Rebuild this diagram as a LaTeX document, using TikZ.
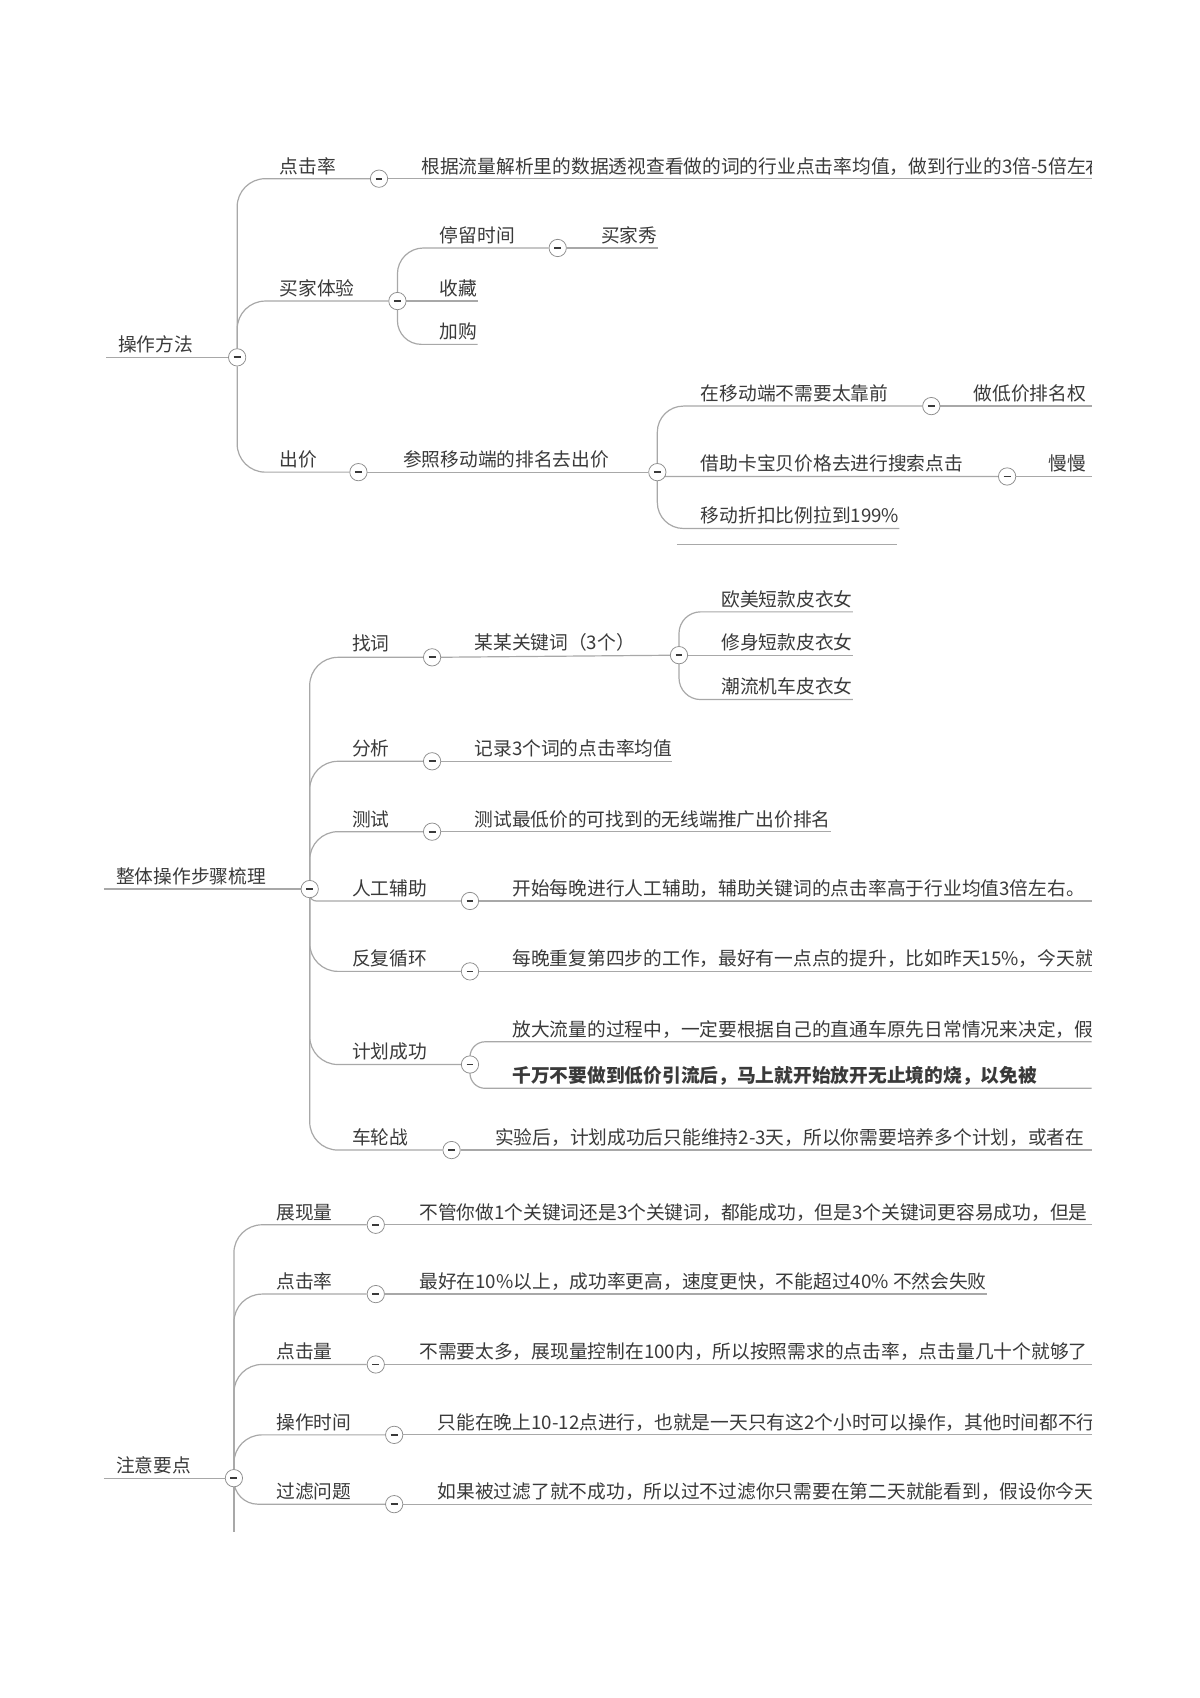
\documentclass[tikz,border=0pt]{standalone}
\usepackage{fontspec}
\usetikzlibrary{backgrounds}
\newfontfamily\cnfont{Noto Sans CJK SC}
\definecolor{Ink}{HTML}{3A3A3A}
\definecolor{Wire}{HTML}{A8A8A8}
\definecolor{Ring}{HTML}{8E8E8E}

\begin{document}
\begin{tikzpicture}[x=1pt, y=-1pt,
  every node/.style={font=\cnfont\fontsize{17.3}{20}\selectfont, text=Ink},
  topic/.style={anchor=south west, inner xsep=0pt, inner ysep=0pt, text height=13pt, text depth=5pt},
  root/.style={topic, inner xsep=11pt},
  fold/.style={circle, draw=Ring, fill=white, line width=0.7pt, minimum size=16pt, inner sep=0pt,
    path picture={\draw[Ink, line width=1.6pt] ([xshift=-3.2pt]path picture bounding box.center) -- ([xshift=3.2pt]path picture bounding box.center);}},
  conn/.style={draw=Wire, line width=1.1pt, rounded corners=26pt}]
  \useasboundingbox (0,0) rectangle (1108,1568);
  \coordinate (rim) at (1008,0);

  \begin{scope}
  \clip (0,0) rectangle (1008,1568);
  % operation methods
  \node[root] (opRoot) at (98,330) {操作方法};
  \node[fold] (opFold) at (219,330) {};
  \node[topic] (opCtr) at (258,165) {点击率};
  \node[fold] (opCtrFold) at (350,165) {};
  \node[topic] (opCtrNote) at (389,165) {根据流量解析里的数据透视查看做的词的行业点击率均值，做到行业的3倍-5倍左右};
  \node[topic] (opBuy) at (258,278) {买家体验};
  \node[fold] (opBuyFold) at (367,278) {};
  \node[topic] (opStay) at (406,229) {停留时间};
  \node[fold] (opStayFold) at (515,229) {};
  \node[topic] (opShow) at (555,229) {买家秀};
  \node[topic] (opFav) at (406,278) {收藏};
  \node[topic] (opCart) at (406,318) {加购};
  \node[topic] (opBid) at (258,436) {出价};
  \node[fold] (opBidFold) at (331,436) {};
  \node[topic] (opRank) at (372,436) {参照移动端的排名去出价};
  \node[fold] (opRankFold) at (607,436) {};
  \node[topic] (opFront) at (647,375) {在移动端不需要太靠前};
  \node[fold] (opFrontFold) at (860,375) {};
  \node[topic] (opWeight) at (899,375) {做低价排名权};
  \node[topic] (opCard) at (647,440) {借助卡宝贝价格去进行搜索点击};
  \node[fold] (opCardFold) at (930,440) {};
  \node[topic] (opSlow) at (968,440) {慢慢};
  \node[topic] (opDisc) at (647,488) {移动折扣比例拉到199\%};
  \coordinate (opStrayL) at (625,503);
  \coordinate (opStrayR) at (828,503);

  % overall steps
  \node[root] (stRoot) at (96,821) {整体操作步骤梳理};
  \node[fold] (stFold) at (286,821) {};
  \node[topic] (stFind) at (325,606) {找词};
  \node[fold] (stFindFold) at (399,607) {};
  \node[topic] (stKey) at (438,605) {某某关键词（3个）};
  \node[fold] (stKeyFold) at (627,605) {};
  \node[topic] (stKeyA) at (666,565) {欧美短款皮衣女};
  \node[topic] (stKeyB) at (666,605) {修身短款皮衣女};
  \node[topic] (stKeyC) at (666,646) {潮流机车皮衣女};
  \node[topic] (stAna) at (325,703) {分析};
  \node[fold] (stAnaFold) at (399,703) {};
  \node[topic] (stAnaNote) at (438,703) {记录3个词的点击率均值};
  \node[topic] (stTest) at (325,768) {测试};
  \node[fold] (stTestFold) at (399,768) {};
  \node[topic] (stTestNote) at (438,768) {测试最低价的可找到的无线端推广出价排名};
  \node[topic] (stHelp) at (325,832) {人工辅助};
  \node[fold] (stHelpFold) at (434,832) {};
  \node[topic] (stHelpNote) at (473,832) {开始每晚进行人工辅助，辅助关键词的点击率高于行业均值3倍左右。};
  \node[topic] (stLoop) at (325,897) {反复循环};
  \node[fold] (stLoopFold) at (434,897) {};
  \node[topic] (stLoopNote) at (473,897) {每晚重复第四步的工作，最好有一点点的提升，比如昨天15\%，今天就};
  \node[topic] (stPlan) at (325,983) {计划成功};
  \node[fold] (stPlanFold) at (434,983) {};
  \node[topic] (stPlanA) at (473,962) {放大流量的过程中，一定要根据自己的直通车原先日常情况来决定，假};
  \node[topic, font=\cnfont\bfseries\fontsize{17.3}{20}\selectfont] (stPlanB) at (473,1005) {千万不要做到低价引流后，马上就开始放开无止境的烧，以免被};
  \node[topic] (stWheel) at (325,1062) {车轮战};
  \node[fold] (stWheelFold) at (417,1062) {};
  \node[topic] (stWheelNote) at (457,1062) {实验后，计划成功后只能维持2-3天，所以你需要培养多个计划，或者在};

  % key points
  \node[root] (ntRoot) at (96,1365) {注意要点};
  \node[fold] (ntFold) at (216,1365) {};
  \coordinate (ntTail) at (216,1415);
  \node[topic] (ntShow) at (255,1131) {展现量};
  \node[fold] (ntShowFold) at (347,1131) {};
  \node[topic] (ntShowNote) at (387,1131) {不管你做1个关键词还是3个关键词，都能成功，但是3个关键词更容易成功，但是};
  \node[topic] (ntCtr) at (255,1195) {点击率};
  \node[fold] (ntCtrFold) at (347,1195) {};
  \node[topic] (ntCtrNote) at (387,1195) {最好在10\%以上，成功率更高，速度更快，不能超过40\% 不然会失败};
  \node[topic] (ntClick) at (255,1260) {点击量};
  \node[fold] (ntClickFold) at (347,1260) {};
  \node[topic] (ntClickNote) at (387,1260) {不需要太多，展现量控制在100内，所以按照需求的点击率，点击量几十个就够了};
  \node[topic] (ntTime) at (255,1325) {操作时间};
  \node[fold] (ntTimeFold) at (364,1325) {};
  \node[topic] (ntTimeNote) at (404,1325) {只能在晚上10-12点进行，也就是一天只有这2个小时可以操作，其他时间都不行};
  \node[topic] (ntFilter) at (255,1389) {过滤问题};
  \node[fold] (ntFilterFold) at (364,1389) {};
  \node[topic] (ntFilterNote) at (404,1389) {如果被过滤了就不成功，所以过不过滤你只需要在第二天就能看到，假设你今天};
  \end{scope}

  \begin{scope}[on background layer]
  \fill[white] (0,0) rectangle (1108,1568);
  \draw[conn] (opRoot.south west) -- (opFold);
  \draw[conn] (opFold) |- (opCtrFold);
  \draw[conn] (opFold) |- (opBuyFold);
  \draw[conn] (opFold) |- (opBidFold);
  \draw[conn] (opCtrFold) -- (opCtrFold -| rim);
  \draw[conn, rounded corners=24pt] (opBuyFold) |- (opStayFold);
  \draw[conn] (opStayFold) -- (opShow.south east);
  \draw[conn] (opBuyFold) -- (opFav.south east);
  \draw[conn, rounded corners=22pt] (opBuyFold) |- (opCart.south east);
  \draw[conn] (opBidFold) -- (opRankFold);
  \draw[conn, rounded corners=24pt] (opRankFold) |- (opFrontFold);
  \draw[conn, rounded corners=3pt] (opRankFold) |- (opCardFold);
  \draw[conn, rounded corners=24pt] (opRankFold) |- (opDisc.south east);
  \draw[conn] (opFrontFold) -- (opFrontFold -| rim);
  \draw[conn] (opCardFold) -- (opCardFold -| rim);
  \draw[conn] (opStrayL) -- (opStrayR);

  \draw[conn] (stRoot.south west) -- (stFold);
  \draw[conn] (stFold) |- (stFindFold);
  \draw[conn] (stFold) |- (stAnaFold);
  \draw[conn] (stFold) |- (stTestFold);
  \draw[conn, rounded corners=6pt] (stFold) |- (stHelpFold);
  \draw[conn] (stFold) |- (stLoopFold);
  \draw[conn] (stFold) |- (stPlanFold);
  \draw[conn] (stFold) |- (stWheelFold);
  \draw[conn] (stFindFold) -- (stKeyFold);
  \draw[conn, rounded corners=20pt] (stKeyFold) |- (stKeyA.south east);
  \draw[conn] (stKeyFold) -- (stKeyB.south east);
  \draw[conn, rounded corners=20pt] (stKeyFold) |- (stKeyC.south east);
  \draw[conn] (stAnaFold) -- (stAnaNote.south east);
  \draw[conn] (stTestFold) -- (stTestNote.south east);
  \draw[conn] (stHelpFold) -- (stHelpFold -| rim);
  \draw[conn] (stLoopFold) -- (stLoopFold -| rim);
  \draw[conn, rounded corners=14pt] (stPlanFold) |- (stPlanA.south -| rim);
  \draw[conn, rounded corners=14pt] (stPlanFold) |- (stPlanB.south -| rim);
  \draw[conn] (stWheelFold) -- (stWheelFold -| rim);

  \draw[conn] (ntRoot.south west) -- (ntFold);
  \draw[conn] (ntFold) -- (ntTail);
  \draw[conn] (ntFold) |- (ntShowFold);
  \draw[conn] (ntFold) |- (ntCtrFold);
  \draw[conn] (ntFold) |- (ntClickFold);
  \draw[conn] (ntFold) |- (ntTimeFold);
  \draw[conn, rounded corners=22pt] (ntFold) |- (ntFilterFold);
  \draw[conn] (ntShowFold) -- (ntShowFold -| rim);
  \draw[conn] (ntCtrFold) -- (ntCtrNote.south east);
  \draw[conn] (ntClickFold) -- (ntClickFold -| rim);
  \draw[conn] (ntTimeFold) -- (ntTimeFold -| rim);
  \draw[conn] (ntFilterFold) -- (ntFilterFold -| rim);
  \end{scope}
\end{tikzpicture}
\end{document}
